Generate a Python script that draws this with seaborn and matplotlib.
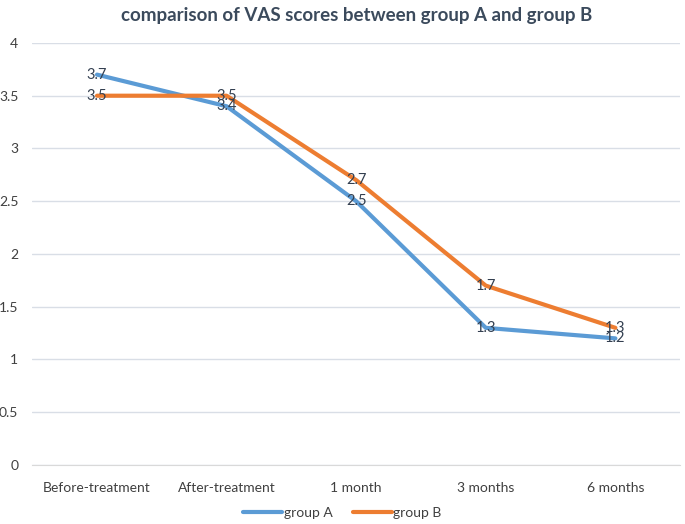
import numpy as np
import pandas as pd
import matplotlib
matplotlib.use("Agg")
import matplotlib.pyplot as plt
import seaborn as sns

timepoints = ["Before-treatment", "After-treatment", "1 month", "3 months", "6 months"]
group_a = [3.7, 3.4, 2.5, 1.3, 1.2]
group_b = [3.5, 3.5, 2.7, 1.7, 1.3]
series_names = ["group A", "group B"]
colors = ["#5B9BD5", "#ED7D31"]

df = pd.DataFrame({
    "time": timepoints * 2,
    "pos": list(range(len(timepoints))) * 2,
    "score": group_a + group_b,
    "group": [series_names[0]] * len(timepoints) + [series_names[1]] * len(timepoints),
})

sns.set_style("white")
plt.rcParams["font.family"] = ["Lato", "DejaVu Sans"]

fig = plt.figure(figsize=(6.85, 5.24), dpi=100)
ax = fig.add_axes([0.047, 0.1126, 0.946, 0.8054])

sns.lineplot(data=df, x="pos", y="score", hue="group", palette=colors,
             linewidth=3, ax=ax, legend=False, zorder=3)

text_col = "#333F50"
for vals in (group_a, group_b):
    for i, v in enumerate(vals):
        ax.text(i, v, f"{v}", ha="center", va="center", fontsize=10.5,
                color=text_col, zorder=4)

ax.set_xlim(-0.5, len(timepoints) - 0.5)
ax.set_ylim(0, 4)
ax.set_yticks(np.arange(0, 4.01, 0.5))
ax.set_yticklabels(["0", "0.5", "1", "1.5", "2", "2.5", "3", "3.5", "4"])
ax.set_xticks(range(len(timepoints)))
ax.set_xticklabels(timepoints)
ax.set_xticks(np.arange(0.5, len(timepoints) - 0.5, 1), minor=True)
ax.tick_params(axis="x", which="major", length=0, pad=12, labelsize=10, labelcolor="#404040")
ax.tick_params(axis="x", which="minor", length=5, color="#D9D9D9", direction="in")
ax.tick_params(axis="y", length=0, pad=10, labelsize=10, labelcolor="#404040")
ax.grid(axis="y", color="#D9DEE6", linewidth=1)
ax.set_xlabel("")
ax.set_ylabel("")
for side in ["top", "right", "left"]:
    ax.spines[side].set_visible(False)
ax.spines["bottom"].set_color("#D9D9D9")
ax.spines["bottom"].set_zorder(2)

ax.set_title("comparison of VAS scores between group A and group B",
             fontsize=13.5, fontweight="bold", color="#3B4A5C", pad=16)

handles = [plt.Line2D([], [], color=c, linewidth=3) for c in colors]
fig.legend(handles, series_names, loc="lower center", ncol=2, frameon=False,
           bbox_to_anchor=(0.5, -0.015), fontsize=10, handlelength=2.8,
           handletextpad=0.1, columnspacing=1.5, labelcolor="#404040")

fig.savefig("out.png", dpi=100)
